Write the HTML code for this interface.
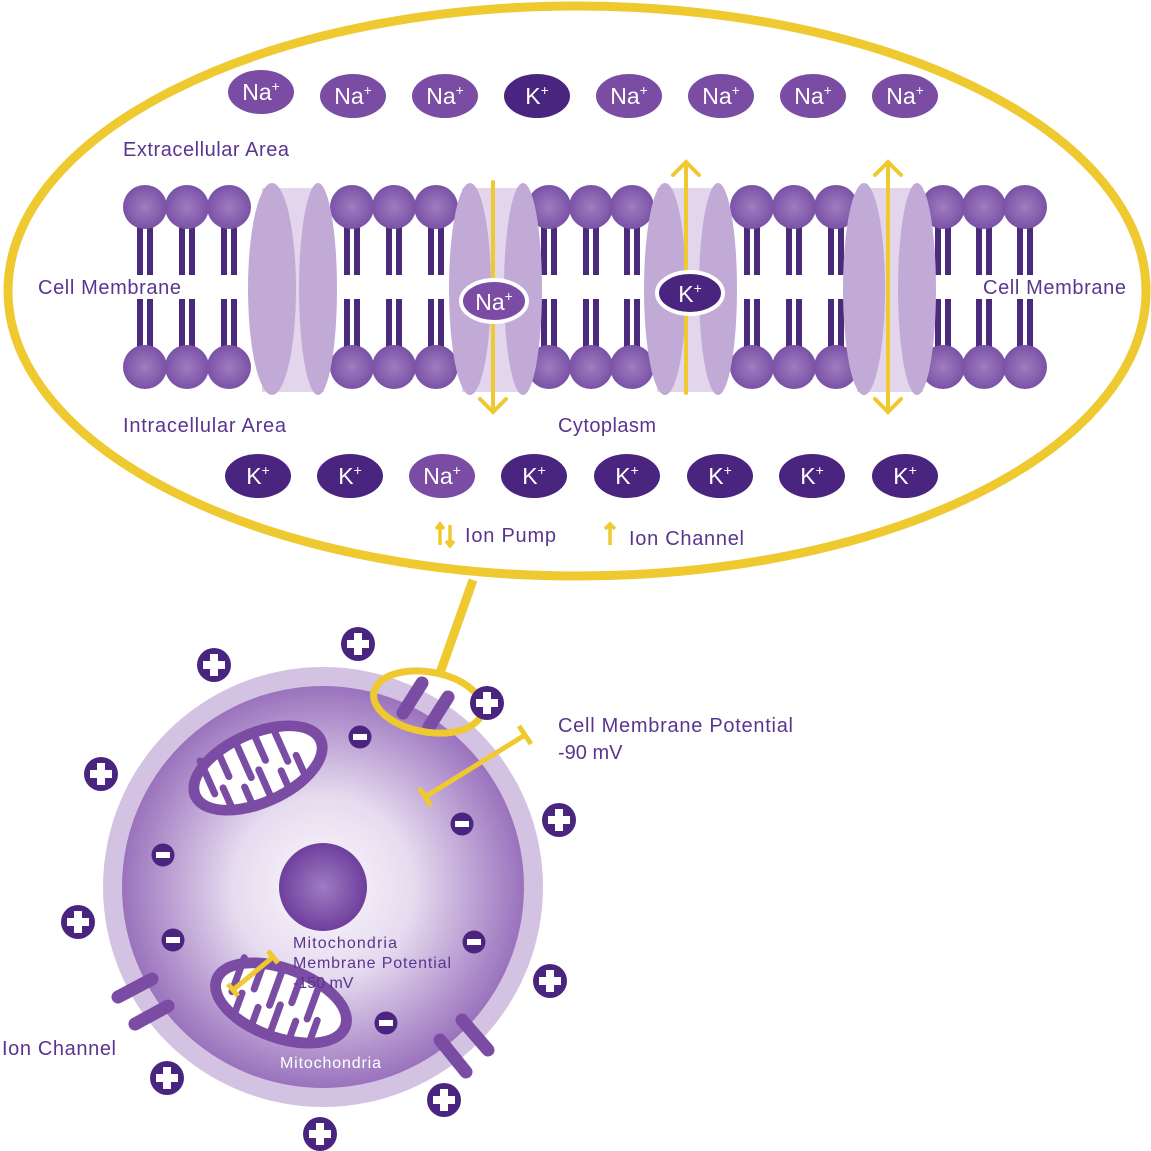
<!DOCTYPE html>
<html><head><meta charset="utf-8"><style>
html,body{margin:0;padding:0;background:#fff;}
svg{display:block;}
text{font-family:"Liberation Sans",sans-serif;}
</style></head><body>
<svg width="1151" height="1151" viewBox="0 0 1151 1151" xmlns="http://www.w3.org/2000/svg">
<defs>
<radialGradient id="head" cx="50%" cy="50%" r="50%"><stop offset="0" stop-color="#a07cc0"/><stop offset="1" stop-color="#7a52a6"/></radialGradient>
<radialGradient id="cyto" cx="50%" cy="50%" r="50%"><stop offset="0" stop-color="#fbf8fd"/><stop offset="0.45" stop-color="#e6dbef"/><stop offset="1" stop-color="#9a72bd"/></radialGradient>
<radialGradient id="nuc" cx="50%" cy="50%" r="50%"><stop offset="0" stop-color="#9e7cc2"/><stop offset="1" stop-color="#6e3f9c"/></radialGradient>
<g id="plus"><circle r="17" fill="#4a2580"/><rect x="-11" y="-4" width="22" height="8" fill="#fff"/><rect x="-4" y="-11" width="8" height="22" fill="#fff"/></g>
<g id="minus"><circle r="11.5" fill="#4a2580"/><rect x="-7" y="-3" width="14" height="6" fill="#fff"/></g>
<g id="tailT"><path d="M-5 20 V68 M5 20 V68" stroke="#4a2a7a" stroke-width="6"/></g>
<g id="tailB"><path d="M-5 -20 V-68 M5 -20 V-68" stroke="#4a2a7a" stroke-width="6"/></g>
<g id="mito">
<ellipse rx="70" ry="36" fill="#7a4ca3"/>
<ellipse rx="63" ry="29" fill="#fff"/>
<path d="M-50 -30 V6 M-30 -30 V-4 M-10 -30 V6 M10 -30 V-4 M30 -30 V6 M-40 30 V4 M-20 30 V12 M0 30 V2 M20 30 V12 M40 30 V4" stroke="#7a4ca3" stroke-width="7" fill="none" stroke-linecap="round"/>
<ellipse rx="70" ry="36" fill="none" stroke="#7a4ca3" stroke-width="8"/>
</g>
</defs>

<ellipse cx="577" cy="291" rx="569" ry="285" fill="#fff" stroke="#efc930" stroke-width="9"/>

<!-- lipids -->
<g>
<g transform="translate(145,207)"><use href="#tailT"/><circle r="22" fill="url(#head)"/></g>
<g transform="translate(187,207)"><use href="#tailT"/><circle r="22" fill="url(#head)"/></g>
<g transform="translate(229,207)"><use href="#tailT"/><circle r="22" fill="url(#head)"/></g>
<g transform="translate(352,207)"><use href="#tailT"/><circle r="22" fill="url(#head)"/></g>
<g transform="translate(394,207)"><use href="#tailT"/><circle r="22" fill="url(#head)"/></g>
<g transform="translate(436,207)"><use href="#tailT"/><circle r="22" fill="url(#head)"/></g>
<g transform="translate(549,207)"><use href="#tailT"/><circle r="22" fill="url(#head)"/></g>
<g transform="translate(591,207)"><use href="#tailT"/><circle r="22" fill="url(#head)"/></g>
<g transform="translate(632,207)"><use href="#tailT"/><circle r="22" fill="url(#head)"/></g>
<g transform="translate(752,207)"><use href="#tailT"/><circle r="22" fill="url(#head)"/></g>
<g transform="translate(794,207)"><use href="#tailT"/><circle r="22" fill="url(#head)"/></g>
<g transform="translate(836,207)"><use href="#tailT"/><circle r="22" fill="url(#head)"/></g>
<g transform="translate(943,207)"><use href="#tailT"/><circle r="22" fill="url(#head)"/></g>
<g transform="translate(984,207)"><use href="#tailT"/><circle r="22" fill="url(#head)"/></g>
<g transform="translate(1025,207)"><use href="#tailT"/><circle r="22" fill="url(#head)"/></g>
<g transform="translate(145,367)"><use href="#tailB"/><circle r="22" fill="url(#head)"/></g>
<g transform="translate(187,367)"><use href="#tailB"/><circle r="22" fill="url(#head)"/></g>
<g transform="translate(229,367)"><use href="#tailB"/><circle r="22" fill="url(#head)"/></g>
<g transform="translate(352,367)"><use href="#tailB"/><circle r="22" fill="url(#head)"/></g>
<g transform="translate(394,367)"><use href="#tailB"/><circle r="22" fill="url(#head)"/></g>
<g transform="translate(436,367)"><use href="#tailB"/><circle r="22" fill="url(#head)"/></g>
<g transform="translate(549,367)"><use href="#tailB"/><circle r="22" fill="url(#head)"/></g>
<g transform="translate(591,367)"><use href="#tailB"/><circle r="22" fill="url(#head)"/></g>
<g transform="translate(632,367)"><use href="#tailB"/><circle r="22" fill="url(#head)"/></g>
<g transform="translate(752,367)"><use href="#tailB"/><circle r="22" fill="url(#head)"/></g>
<g transform="translate(794,367)"><use href="#tailB"/><circle r="22" fill="url(#head)"/></g>
<g transform="translate(836,367)"><use href="#tailB"/><circle r="22" fill="url(#head)"/></g>
<g transform="translate(943,367)"><use href="#tailB"/><circle r="22" fill="url(#head)"/></g>
<g transform="translate(984,367)"><use href="#tailB"/><circle r="22" fill="url(#head)"/></g>
<g transform="translate(1025,367)"><use href="#tailB"/><circle r="22" fill="url(#head)"/></g>
</g>

<!-- channels (in front) -->
<g>
<rect x="262" y="188" width="62" height="204" fill="#e3d6ec"/>
<ellipse cx="272" cy="289" rx="24" ry="106" fill="#c1abd6"/>
<ellipse cx="318" cy="289" rx="19" ry="106" fill="#c1abd6"/>
<rect x="462" y="188" width="66" height="204" fill="#e3d6ec"/>
<ellipse cx="470" cy="289" rx="21" ry="106" fill="#c1abd6"/>
<ellipse cx="523" cy="289" rx="19" ry="106" fill="#c1abd6"/>
<rect x="657" y="188" width="66" height="204" fill="#e3d6ec"/>
<ellipse cx="665" cy="289" rx="21" ry="106" fill="#c1abd6"/>
<ellipse cx="718" cy="289" rx="19" ry="106" fill="#c1abd6"/>
<rect x="857" y="188" width="66" height="204" fill="#e3d6ec"/>
<ellipse cx="864" cy="289" rx="21" ry="106" fill="#c1abd6"/>
<ellipse cx="917" cy="289" rx="19" ry="106" fill="#c1abd6"/>
</g>

<g stroke="#efc930" stroke-width="4" fill="none" stroke-linecap="round">
<path d="M493 182 V412 M480 399 L493 412 L506 399"/>
<path d="M686 393 V162 M673 175 L686 162 L699 175"/>
<path d="M888 162 V412 M875 175 L888 162 L901 175 M875 399 L888 412 L901 399"/>
</g>

<ellipse cx="494" cy="301" rx="33" ry="21" fill="#7a4ca3" stroke="#fff" stroke-width="4"/>
<text x="494" y="310" font-size="23" fill="#fff" text-anchor="middle">Na<tspan font-size="14" dy="-9">+</tspan></text>
<ellipse cx="690" cy="293" rx="33" ry="21" fill="#4a2580" stroke="#fff" stroke-width="4"/>
<text x="690" y="302" font-size="23" fill="#fff" text-anchor="middle">K<tspan font-size="14" dy="-9">+</tspan></text>

<g font-size="23" fill="#fff" text-anchor="middle">
<ellipse cx="261" cy="92" rx="33" ry="22" fill="#7a4ca3"/><text x="261" y="100">Na<tspan font-size="14" dy="-9">+</tspan></text>
<ellipse cx="353" cy="96" rx="33" ry="22" fill="#7a4ca3"/><text x="353" y="104">Na<tspan font-size="14" dy="-9">+</tspan></text>
<ellipse cx="445" cy="96" rx="33" ry="22" fill="#7a4ca3"/><text x="445" y="104">Na<tspan font-size="14" dy="-9">+</tspan></text>
<ellipse cx="537" cy="96" rx="33" ry="22" fill="#4a2580"/><text x="537" y="104">K<tspan font-size="14" dy="-9">+</tspan></text>
<ellipse cx="629" cy="96" rx="33" ry="22" fill="#7a4ca3"/><text x="629" y="104">Na<tspan font-size="14" dy="-9">+</tspan></text>
<ellipse cx="721" cy="96" rx="33" ry="22" fill="#7a4ca3"/><text x="721" y="104">Na<tspan font-size="14" dy="-9">+</tspan></text>
<ellipse cx="813" cy="96" rx="33" ry="22" fill="#7a4ca3"/><text x="813" y="104">Na<tspan font-size="14" dy="-9">+</tspan></text>
<ellipse cx="905" cy="96" rx="33" ry="22" fill="#7a4ca3"/><text x="905" y="104">Na<tspan font-size="14" dy="-9">+</tspan></text>
<ellipse cx="258" cy="476" rx="33" ry="22" fill="#4a2580"/><text x="258" y="484">K<tspan font-size="14" dy="-9">+</tspan></text>
<ellipse cx="350" cy="476" rx="33" ry="22" fill="#4a2580"/><text x="350" y="484">K<tspan font-size="14" dy="-9">+</tspan></text>
<ellipse cx="442" cy="476" rx="33" ry="22" fill="#7a4ca3"/><text x="442" y="484">Na<tspan font-size="14" dy="-9">+</tspan></text>
<ellipse cx="534" cy="476" rx="33" ry="22" fill="#4a2580"/><text x="534" y="484">K<tspan font-size="14" dy="-9">+</tspan></text>
<ellipse cx="627" cy="476" rx="33" ry="22" fill="#4a2580"/><text x="627" y="484">K<tspan font-size="14" dy="-9">+</tspan></text>
<ellipse cx="720" cy="476" rx="33" ry="22" fill="#4a2580"/><text x="720" y="484">K<tspan font-size="14" dy="-9">+</tspan></text>
<ellipse cx="812" cy="476" rx="33" ry="22" fill="#4a2580"/><text x="812" y="484">K<tspan font-size="14" dy="-9">+</tspan></text>
<ellipse cx="905" cy="476" rx="33" ry="22" fill="#4a2580"/><text x="905" y="484">K<tspan font-size="14" dy="-9">+</tspan></text>
</g>

<g fill="#5a3590" font-size="20">
<text x="123" y="156" textLength="166">Extracellular Area</text>
<text x="38" y="294" textLength="143">Cell Membrane</text>
<text x="983" y="294" textLength="143">Cell Membrane</text>
<text x="123" y="432" textLength="163">Intracellular Area</text>
<text x="558" y="432" textLength="98">Cytoplasm</text>
<text x="465" y="542" textLength="91">Ion Pump</text>
<text x="629" y="545" textLength="115">Ion Channel</text>
<text x="558" y="732" textLength="235">Cell Membrane Potential</text>
<text x="558" y="759">-90 mV</text>
<text x="2" y="1055" textLength="114">Ion Channel</text>
</g>
<g stroke="#efc930" stroke-width="3.5" fill="none">
<path d="M440 545 V524 M436 529 L440 524 L444 529 M450 525 V546 M446 541 L450 546 L454 541"/>
<path d="M610 545 V524 M605 529 L610 524 L615 529"/>
</g>

<path d="M473 580 L440 673" stroke="#efc930" stroke-width="9"/>

<circle cx="323" cy="887" r="220" fill="#d4c2e2"/>
<circle cx="323" cy="887" r="201" fill="url(#cyto)"/>
<circle cx="323" cy="887" r="44" fill="url(#nuc)"/>

<g transform="translate(258,768) rotate(-24)"><use href="#mito"/></g>
<g transform="translate(281,1003) rotate(20)"><use href="#mito"/></g>

<g stroke="#7a4ca3" stroke-width="13" stroke-linecap="round">
<path d="M118 997 L152 979 M135 1024 L168 1006"/>
<path d="M440 1040 L466 1072 M462 1020 L488 1050"/>
<path d="M403 713 L422 683 M429 727 L448 697"/>
</g>
<ellipse cx="428" cy="702" rx="55" ry="30" fill="none" stroke="#efc930" stroke-width="7" transform="rotate(10 428 702)"/>

<g stroke="#efc930" stroke-width="5">
<path d="M425 797 L525 735 M419 788 L431 806 M519 726 L531 744"/>
<path d="M233 990 L273 957 M228 984 L238 996 M268 951 L278 963"/>
</g>

<g fill="#5a3590" font-size="16">
<text x="293" y="948" textLength="104">Mitochondria</text>
<text x="293" y="968" textLength="158">Membrane Potential</text>
<text x="293" y="988">-150 mV</text>
</g>
<text x="280" y="1068" font-size="16" fill="#fff" textLength="101">Mitochondria</text>

<use href="#plus" x="358" y="644"/>
<use href="#plus" x="214" y="665"/>
<use href="#plus" x="487" y="703"/>
<use href="#plus" x="101" y="774"/>
<use href="#plus" x="559" y="820"/>
<use href="#plus" x="78" y="922"/>
<use href="#plus" x="550" y="981"/>
<use href="#plus" x="167" y="1078"/>
<use href="#plus" x="444" y="1100"/>
<use href="#plus" x="320" y="1134"/>

<use href="#minus" x="360" y="737"/>
<use href="#minus" x="462" y="824"/>
<use href="#minus" x="163" y="855"/>
<use href="#minus" x="173" y="940"/>
<use href="#minus" x="474" y="942"/>
<use href="#minus" x="386" y="1023"/>
</svg>
</body></html>
